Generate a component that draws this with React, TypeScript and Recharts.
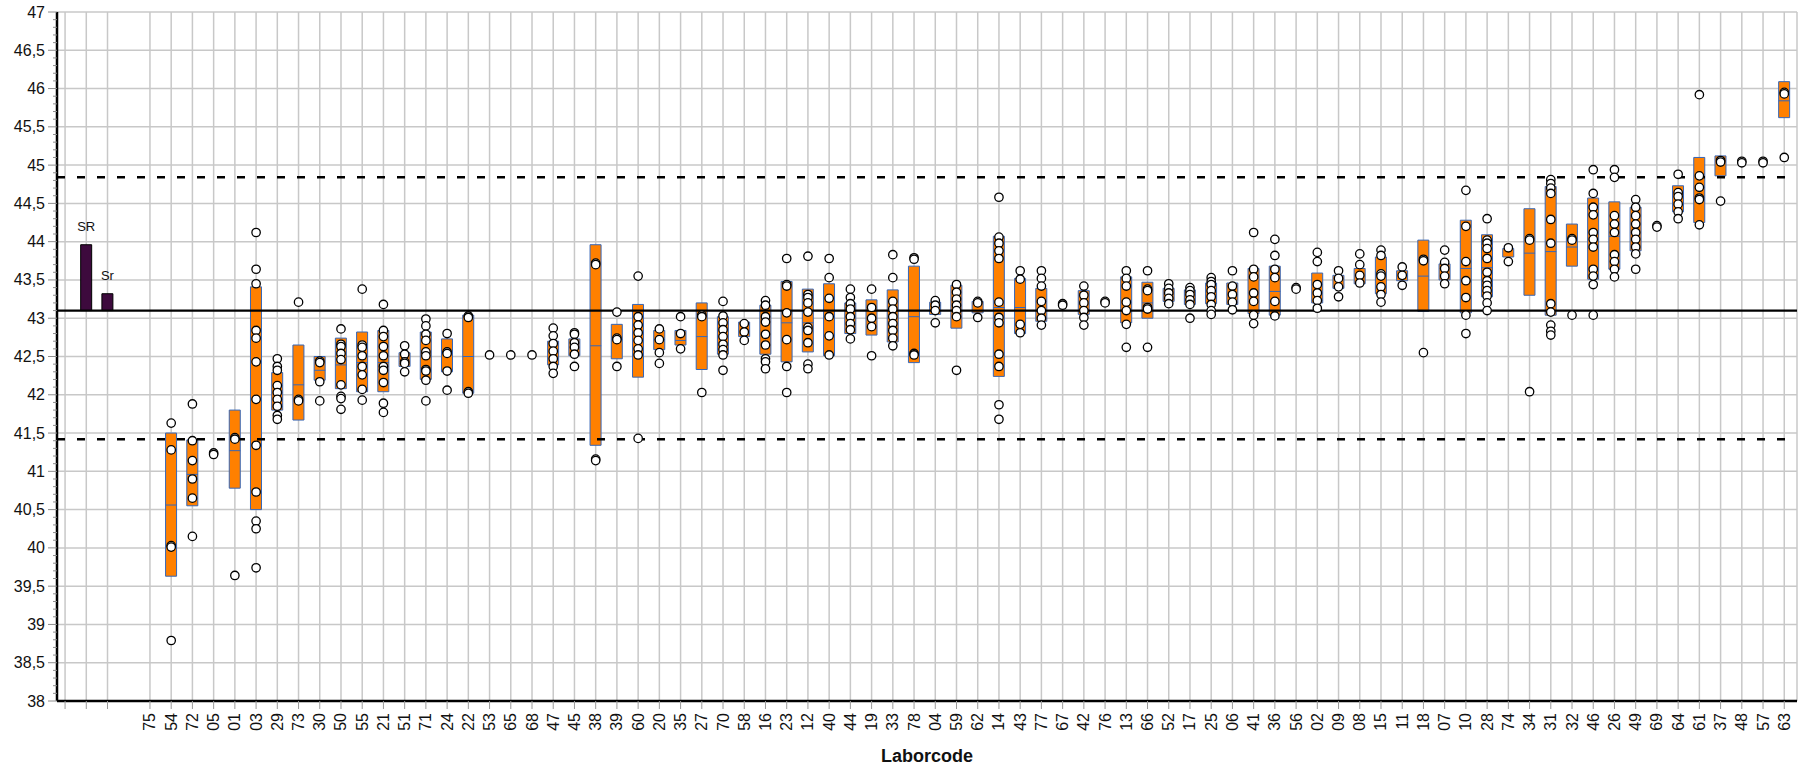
import React from "react";
import {
  ComposedChart, Bar, Scatter, XAxis, YAxis, CartesianGrid, ReferenceLine, Cell, LabelList,
} from "recharts";

// lab codes in plotted order
const labCodes = [
  "75", "54", "72", "05", "01", "03", "29", "73", "30", "50", "55", "21", "51",
  "71", "24", "22", "53", "65", "68", "47", "45", "38", "39", "60", "20", "35",
  "27", "70", "58", "16", "23", "12", "40", "44", "19", "33", "78", "04", "59",
  "62", "14", "43", "77", "67", "42", "76", "13", "66", "52", "17", "25", "06",
  "41", "36", "56", "02", "09", "08", "15", "11", "18", "07", "10", "28", "74",
  "34", "31", "32", "46", "26", "49", "69", "64", "61", "37", "48", "57", "63",
];

const boxLow: (number | null)[] = [
  null, 39.63, 40.55, null, 40.78, 40.5, 41.8, 41.67, 42.19, 42.08, 42.04, 42.04, 42.37,
  42.2, 42.3, 42.02, null, null, null, 42.39, 42.51, 41.34, 42.47, 42.23, 42.59, 42.65,
  42.33, 42.53, 42.76, 42.53, 42.43, 42.56, 42.51, 42.8, 42.78, 42.69, 42.42, 43.05, 42.87,
  43.07, 42.24, 42.8, 42.96, null, 43.05, null, 42.94, 43.0, 43.22, 43.18, 43.19, 43.18,
  43.06, 43.04, null, 43.2, 43.39, 43.45, 43.32, 43.49, 43.09, 43.5, 43.07, 43.28, 43.8,
  43.3, 43.04, 43.68, 43.51, 43.64, 43.88, null, 44.39, 44.25, 44.86, null, null, 45.62,
];

const boxHigh: (number | null)[] = [
  null, 41.5, 41.41, null, 41.8, 43.41, 42.29, 42.65, 42.5, 42.74, 42.82, 42.84, 42.55,
  42.82, 42.73, 43.04, null, null, null, 42.7, 42.73, 43.96, 42.92, 43.18, 42.84, 42.84,
  43.2, 43.02, 42.95, 43.17, 43.48, 43.38, 43.45, 43.2, 43.24, 43.37, 43.68, 43.21, 43.43,
  43.22, 44.07, 43.52, 43.39, null, 43.36, null, 43.54, 43.47, 43.39, 43.37, 43.46, 43.46,
  43.65, 43.68, null, 43.59, 43.56, 43.65, 43.8, 43.62, 44.02, 43.71, 44.28, 44.09, 43.91,
  44.43, 44.72, 44.23, 44.57, 44.52, 44.45, null, 44.73, 45.1, 45.12, null, null, 46.09,
];

const boxMid: (number | null)[] = [
  null, 40.56, 40.96, null, 41.27, null, null, 42.13, 42.32, 42.39, 42.42, 42.42, null,
  null, 42.55, 42.5, null, null, null, null, null, 42.64, 42.72, null, 42.72, 42.71,
  42.76, null, null, null, 42.94, 42.94, null, null, null, null, 43.02, null, null,
  null, 43.14, 43.14, null, null, null, null, null, 43.2, null, null, null, null,
  null, 43.35, null, null, null, null, null, null, 43.55, null, 43.65, 43.66, null,
  43.85, 43.87, 43.93, null, 44.07, null, null, null, null, null, null, null, 45.84,
];

const labValues: number[][] = [
  [],
  [41.63, 41.28, 40.03, 40.01, 38.79],
  [41.88, 41.4, 41.14, 40.9, 40.65, 40.15],
  [41.24, 41.22],
  [41.44, 41.42, 39.64],
  [44.12, 43.64, 43.45, 42.84, 42.74, 42.43, 41.94, 41.34, 40.73, 40.35, 40.25, 39.74],
  [42.47, 42.37, 42.32, 42.12, 42.03, 41.94, 41.85, 41.73, 41.68],
  [43.21, 41.94, 41.92],
  [42.44, 42.42, 42.17, 41.92],
  [42.86, 42.66, 42.63, 42.54, 42.46, 42.13, 41.98, 41.95, 41.81],
  [43.38, 42.65, 42.62, 42.51, 42.37, 42.26, 42.07, 41.93],
  [43.18, 42.84, 42.76, 42.63, 42.51, 42.37, 42.32, 42.16, 41.89, 41.77],
  [42.64, 42.53, 42.43, 42.41, 42.3],
  [42.99, 42.9, 42.79, 42.71, 42.56, 42.51, 42.33, 42.31, 42.19, 41.92],
  [42.8, 42.56, 42.54, 42.31, 42.06],
  [43.03, 43.01, 42.04, 42.02],
  [42.52],
  [42.52],
  [42.52],
  [42.87, 42.77, 42.67, 42.57, 42.47, 42.37, 42.28],
  [42.81, 42.79, 42.68, 42.62, 42.53, 42.37],
  [43.72, 43.7, 41.16, 41.14],
  [43.08, 42.74, 42.72, 42.37],
  [43.55, 43.02, 42.91, 42.81, 42.71, 42.6, 42.52, 41.43],
  [42.86, 42.72, 42.55, 42.41],
  [43.02, 42.8, 42.6],
  [43.04, 43.02, 42.03],
  [43.22, 43.03, 42.94, 42.85, 42.76, 42.66, 42.59, 42.52, 42.32],
  [42.93, 42.82, 42.71],
  [43.23, 43.17, 43.02, 42.95, 42.79, 42.65, 42.47, 42.43, 42.34],
  [43.78, 43.44, 43.42, 43.07, 42.72, 42.37, 42.03],
  [43.81, 43.31, 43.27, 43.2, 43.08, 42.88, 42.84, 42.68, 42.4, 42.34],
  [43.78, 43.53, 43.26, 43.02, 42.77, 42.52],
  [43.38, 43.27, 43.19, 43.12, 43.02, 42.93, 42.85, 42.73],
  [43.38, 43.14, 43.0, 42.89, 42.51],
  [43.83, 43.53, 43.22, 43.12, 43.02, 42.93, 42.84, 42.74, 42.64],
  [43.79, 43.77, 42.54, 42.52],
  [43.23, 43.17, 43.1, 42.94],
  [43.44, 43.34, 43.25, 43.17, 43.1, 43.02, 42.32],
  [43.22, 43.2, 43.01],
  [44.58, 44.06, 43.98, 43.88, 43.78, 43.21, 43.01, 42.94, 42.53, 42.37, 41.87, 41.68],
  [43.62, 43.51, 42.92, 42.81],
  [43.62, 43.52, 43.42, 43.22, 43.1, 43.0, 42.91],
  [43.19, 43.17],
  [43.42, 43.3, 43.2, 43.1, 43.01, 42.91],
  [43.22, 43.2],
  [43.62, 43.52, 43.42, 43.21, 43.1, 42.92, 42.62],
  [43.62, 43.38, 43.36, 43.14, 43.12, 42.62],
  [43.45, 43.39, 43.33, 43.26, 43.19],
  [43.4, 43.36, 43.31, 43.24, 43.18, 43.0],
  [43.53, 43.48, 43.44, 43.36, 43.28, 43.18, 43.1, 43.05],
  [43.62, 43.42, 43.31, 43.21, 43.11],
  [44.12, 43.64, 43.54, 43.33, 43.22, 43.04, 42.93],
  [44.03, 43.82, 43.64, 43.53, 43.22, 43.03],
  [43.4, 43.38],
  [43.86, 43.74, 43.44, 43.33, 43.23, 43.13],
  [43.62, 43.52, 43.41, 43.28],
  [43.84, 43.7, 43.56, 43.46],
  [43.89, 43.82, 43.58, 43.55, 43.41, 43.31, 43.21],
  [43.67, 43.56, 43.43],
  [43.77, 43.75, 42.55],
  [43.89, 43.73, 43.65, 43.55, 43.45],
  [44.67, 44.2, 43.74, 43.49, 43.27, 43.04, 42.8],
  [44.3, 44.02, 43.98, 43.91, 43.78, 43.6, 43.49, 43.43, 43.36, 43.29, 43.2, 43.1],
  [43.92, 43.74],
  [44.04, 44.02, 42.04],
  [44.81, 44.76, 44.7, 44.63, 44.29, 43.98, 43.19, 43.08, 42.91, 42.83, 42.78],
  [44.04, 44.02, 43.04],
  [44.94, 44.63, 44.45, 44.35, 44.12, 44.03, 43.93, 43.64, 43.55, 43.44, 43.04],
  [44.94, 44.84, 44.34, 44.23, 44.12, 43.83, 43.74, 43.64, 43.54],
  [44.55, 44.45, 44.34, 44.23, 44.12, 44.03, 43.93, 43.84, 43.64],
  [44.21, 44.19],
  [44.88, 44.64, 44.59, 44.49, 44.39, 44.3],
  [45.92, 44.86, 44.71, 44.57, 44.55, 44.22],
  [45.06, 45.04, 44.53],
  [45.05, 45.03],
  [45.05, 45.03],
  [45.95, 45.93, 45.1],
];

// repeatability / reproducibility bars drawn from the mean
const precisionBars = [
  { tag: "SR", slot: 1, top: 43.96 },
  { tag: "Sr", slot: 2, top: 43.32 },
];
const centerValue = 43.1;
const limitLow = 41.42;
const limitHigh = 44.84;

const yMajorTicks = [38, 38.5, 39, 39.5, 40, 40.5, 41, 41.5, 42, 42.5, 43, 43.5, 44, 44.5, 45, 45.5, 46, 46.5, 47];
const firstLabSlot = 4;

const yAllTicks = yMajorTicks.flatMap((m, i) =>
  i === yMajorTicks.length - 1 ? [m] : [0, 1, 2, 3, 4].map((s) => Math.round((m + s * 0.1) * 10) / 10)
);
const xTicks = [0, 1, 2, ...labCodes.map((_, i) => i + firstLabSlot)];

const barRows = [
  ...precisionBars.map((p) => ({ x: p.slot, range: [centerValue, p.top], tag: p.tag, kind: "prec" })),
  ...labCodes.flatMap((_, i) =>
    boxLow[i] == null ? [] : [{ x: i + firstLabSlot, range: [boxLow[i], boxHigh[i]], kind: "lab" }]
  ),
];
const pointRows = labValues.flatMap((vals, i) => vals.map((y) => ({ x: i + firstLabSlot, y })));
const midRows = labCodes.flatMap((_, i) => (boxMid[i] == null ? [] : [{ x: i + firstLabSlot, y: boxMid[i] }]));

function YTick(props: any) {
  const { x, y, payload } = props;
  const v = payload.value as number;
  const major = Math.abs(v * 2 - Math.round(v * 2)) < 1e-6;
  return (
    <g>
      <line x1={x - (major ? 9 : 4)} x2={x} y1={y} y2={y} stroke="#8c8c8c" strokeWidth={1} />
      {major && (
        <text x={x - 12} y={y} textAnchor="end" dominantBaseline="central" fontSize={16} fill="#111">
          {String(v).replace(".", ",")}
        </text>
      )}
    </g>
  );
}

function XTick(props: any) {
  const { x, y, payload } = props;
  const slot = payload.value as number;
  const label = slot >= firstLabSlot ? labCodes[slot - firstLabSlot] : "";
  return (
    <text
      x={x}
      y={y}
      transform={`rotate(-90 ${x} ${y})`}
      textAnchor="end"
      dominantBaseline="central"
      fontSize={16}
      fill="#111"
    >
      {label}
    </text>
  );
}

const Dot = (p: any) => (
  <circle cx={p.cx} cy={p.cy} r={4.2} fill="#fff" stroke="#000" strokeWidth={1.3} />
);
const MidLine = (p: any) => (
  <line x1={p.cx - 5.5} x2={p.cx + 5.5} y1={p.cy} y2={p.cy} stroke="#3566b8" strokeWidth={1} />
);

export default function App() {
  return (
    <div
      style={{
        position: "absolute", left: 0, top: 0, width: 1798, height: 771, background: "#fff",
        fontFamily: "'Liberation Sans', Arial, sans-serif",
      }}
    >
      <ComposedChart width={1798} height={771} data={barRows} margin={{ top: 12, right: 1, bottom: 0, left: 0 }}>
        <CartesianGrid stroke="#c8c8c8" strokeWidth={1.5} horizontalValues={yMajorTicks} />
        <XAxis
          type="number"
          dataKey="x"
          domain={[-0.38, 81.6]}
          allowDataOverflow
          ticks={xTicks}
          interval={0}
          height={70}
          tick={<XTick />}
          tickSize={8}
          tickMargin={4}
          tickLine={{ stroke: "#9a9a9a" }}
          axisLine={{ stroke: "#000", strokeWidth: 2.5 }}
          label={{ value: "Laborcode", position: "insideBottom", offset: 9, fontSize: 18, fontWeight: 700, fill: "#111" }}
        />
        <YAxis
          type="number"
          domain={[38, 47]}
          allowDataOverflow
          ticks={yAllTicks}
          interval={0}
          width={57}
          tick={<YTick />}
          tickLine={false}
          tickSize={0}
          tickMargin={0}
          axisLine={{ stroke: "#000", strokeWidth: 2.5 }}
        />
        <ReferenceLine y={centerValue} stroke="#000" strokeWidth={2.2} />
        <ReferenceLine y={limitLow} stroke="#000" strokeWidth={2.5} strokeDasharray="8 12" />
        <ReferenceLine y={limitHigh} stroke="#000" strokeWidth={2.5} strokeDasharray="8 12" />
        <Bar dataKey="range" barSize={11} isAnimationActive={false}>
          {barRows.map((r, i) => (
            <Cell
              key={i}
              fill={r.kind === "prec" ? "#3d0a3d" : "#ff8000"}
              stroke={r.kind === "prec" ? "#000" : "#3566b8"}
              strokeWidth={1}
            />
          ))}
          <LabelList dataKey="tag" position="top" offset={14} fontSize={13} fill="#111" />
        </Bar>
        <Scatter data={midRows} dataKey="y" shape={MidLine} isAnimationActive={false} />
        <Scatter data={pointRows} dataKey="y" shape={Dot} isAnimationActive={false} />
      </ComposedChart>
    </div>
  );
}
